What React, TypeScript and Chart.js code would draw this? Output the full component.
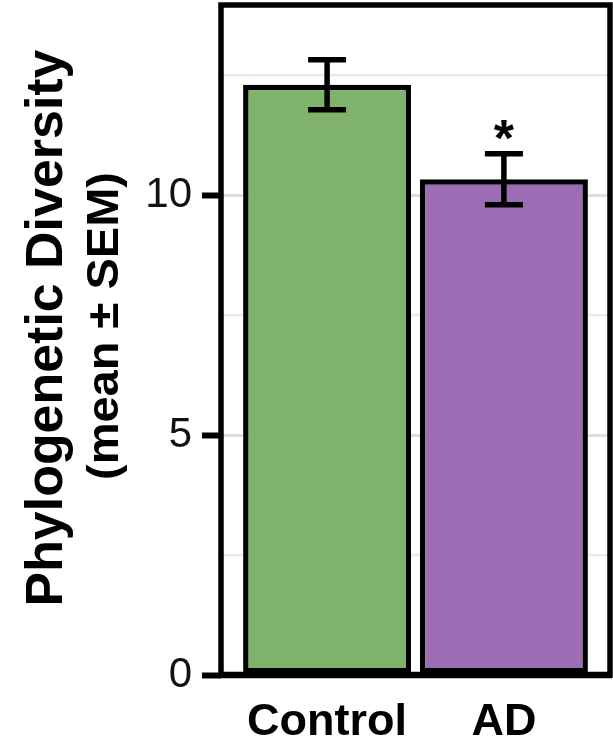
import React, { useEffect, useRef } from 'react';
import { Chart, registerables } from 'chart.js';

Chart.register(...registerables);

// ---- data ----
const categories = ['Control', 'AD'];
const means = [12.3, 10.33];
const sems = [0.52, 0.53];
const significance = ['', '*'];
const barColors = ['#7fb36c', '#9c6db4'];
const yGridTicks = [0, 2.5, 5, 7.5, 10, 12.5];
const yLabelTicks = [0, 5, 10];
const yTitle = 'Phylogenetic Diversity';
const ySubTitle = '(mean ± SEM)';

const FONT = '"Liberation Sans", Arial, Helvetica, sans-serif';

const errorBarPlugin = {
  id: 'errorBars',
  afterDatasetsDraw(chart: any) {
    const meta = chart.getDatasetMeta(0);
    const y = chart.scales.y;
    const ctx = chart.ctx;
    ctx.save();
    ctx.strokeStyle = '#000';
    ctx.lineWidth = 5.5;
    ctx.lineCap = 'butt';
    meta.data.forEach((bar: any, i: number) => {
      const x = bar.x;
      const top = y.getPixelForValue(means[i] + sems[i]);
      const bot = y.getPixelForValue(means[i] - sems[i]);
      ctx.beginPath();
      ctx.moveTo(x, top);
      ctx.lineTo(x, bot);
      ctx.moveTo(x - 19, top);
      ctx.lineTo(x + 19, top);
      ctx.moveTo(x - 19, bot);
      ctx.lineTo(x + 19, bot);
      ctx.stroke();
      if (significance[i]) {
        ctx.font = `bold 52px ${FONT}`;
        ctx.textAlign = 'center';
        ctx.textBaseline = 'alphabetic';
        ctx.fillStyle = '#000';
        ctx.fillText(significance[i], x, top + 2);
      }
    });
    ctx.restore();
  },
};

const panelPlugin = {
  id: 'panelBorder',
  afterDraw(chart: any) {
    const { ctx, chartArea } = chart;
    ctx.save();
    ctx.strokeStyle = '#000';
    ctx.lineWidth = 5.5;
    ctx.strokeRect(chartArea.left, chartArea.top, chartArea.right - chartArea.left, chartArea.bottom - chartArea.top);
    ctx.lineWidth = 6.5;
    ctx.beginPath();
    ctx.moveTo(chartArea.left - 2, chartArea.bottom);
    ctx.lineTo(chartArea.right + 2, chartArea.bottom);
    ctx.stroke();
    ctx.restore();
  },
};

function drawRotated(ctx: CanvasRenderingContext2D, text: string, font: string, baselineX: number, cy: number, targetLen: number) {
  ctx.save();
  ctx.font = font;
  const w = ctx.measureText(text).width;
  ctx.translate(baselineX, cy);
  ctx.rotate(-Math.PI / 2);
  ctx.scale(targetLen / w, 1);
  ctx.textAlign = 'center';
  ctx.textBaseline = 'alphabetic';
  ctx.fillStyle = '#000';
  ctx.fillText(text, 0, 0);
  ctx.restore();
}

const yTitlePlugin = {
  id: 'yTitles',
  afterDraw(chart: any) {
    const ctx = chart.ctx;
    drawRotated(ctx, yTitle, `bold 52px ${FONT}`, 62, 328, 557);
    drawRotated(ctx, ySubTitle, `bold 44px ${FONT}`, 118, 326, 308);
  },
};

export default function App() {
  const canvasRef = useRef<HTMLCanvasElement | null>(null);

  useEffect(() => {
    if (!canvasRef.current) return;
    const chart = new Chart(canvasRef.current, {
      type: 'bar',
      data: {
        datasets: [
          {
            data: categories.map((c, i) => ({ x: i, y: means[i] })),
            backgroundColor: barColors,
            borderColor: '#000',
            borderWidth: 5.5,
            borderSkipped: false,
            barPercentage: 0.95,
            categoryPercentage: 1,
          },
        ],
      },
      options: {
        animation: false,
        responsive: true,
        maintainAspectRatio: false,
        layout: { padding: { top: 5, right: 3, left: 0, bottom: 0 } },
        plugins: { legend: { display: false }, tooltip: { enabled: false } },
        scales: {
          x: {
            type: 'linear',
            min: -0.6,
            max: 1.6,
            offset: false,
            afterBuildTicks: (scale: any) => {
              scale.ticks = categories.map((c, i) => ({ value: i }));
            },
            afterFit: (scale: any) => {
              scale.height = 63;
              scale.paddingLeft = 0;
              scale.paddingRight = 0;
            },
            grid: { display: false, drawTicks: false, offset: false },
            border: { display: false },
            ticks: {
              autoSkip: false,
              maxRotation: 0,
              padding: 21,
              color: '#000',
              font: { family: FONT, size: 45, weight: 'bold' },
              callback: (v: any) => categories[Math.round(Number(v))] ?? '',
            },
          },
          y: {
            type: 'linear',
            min: 0,
            max: 13.96,
            afterBuildTicks: (scale: any) => {
              scale.ticks = yGridTicks.map((v) => ({ value: v }));
            },
            afterFit: (scale: any) => {
              scale.width = 221;
              scale.paddingTop = 0;
              scale.paddingBottom = 0;
            },
            border: { display: false },
            grid: {
              drawTicks: true,
              tickLength: 19,
              color: (c: any) => (c.tick && c.tick.value % 5 === 0 ? '#dedede' : '#ebebeb'),
              lineWidth: (c: any) => (c.tick && c.tick.value % 5 === 0 ? 3 : 2.5),
              tickColor: (c: any) => (c.tick && c.tick.value % 5 === 0 ? '#000' : 'rgba(0,0,0,0)'),
              tickWidth: (c: any) => (c.tick && c.tick.value % 5 === 0 ? 6 : 0),
            },
            ticks: {
              padding: 10,
              color: '#111',
              font: { family: FONT, size: 42 },
              callback: (v: any) => (yLabelTicks.includes(Number(v)) ? String(v) : ''),
            },
          },
        },
      } as any,
      plugins: [errorBarPlugin, panelPlugin, yTitlePlugin],
    });
    return () => chart.destroy();
  }, []);

  return (
    <div style={{ position: 'fixed', left: 0, top: 0, width: 613, height: 738, background: '#fff' }}>
      <canvas ref={canvasRef} />
    </div>
  );
}
